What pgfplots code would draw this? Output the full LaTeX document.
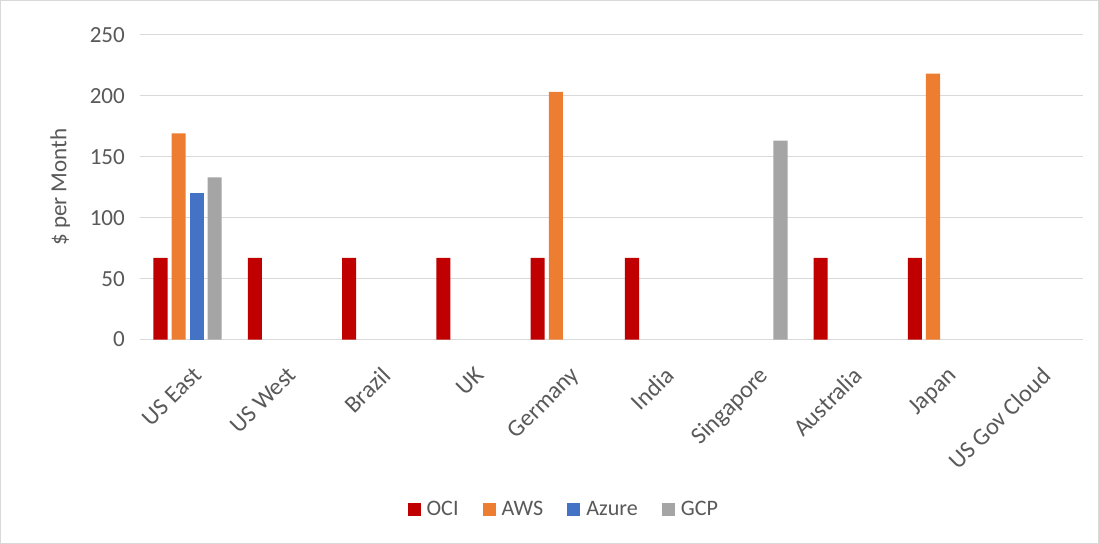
\documentclass[border=0pt]{standalone}
\usepackage{fontspec}
\setmainfont{Carlito}
\usepackage{pgfplots}
\pgfplotsset{compat=1.18}
\definecolor{oci}{HTML}{C00000}
\definecolor{aws}{HTML}{ED7D31}
\definecolor{azure}{HTML}{4472C4}
\definecolor{gcp}{HTML}{A5A5A5}
\definecolor{txt}{HTML}{595959}
\definecolor{grd}{HTML}{D9D9D9}
\begin{document}
\begin{tikzpicture}
\path[draw=grd, line width=1pt] (-139.5pt,-203pt) rectangle (955pt,338pt);
\begin{axis}[
  scale only axis, width=940pt, height=304pt,
  xmin=-0.5, xmax=9.5, ymin=0, ymax=250,
  ybar=4pt, bar width=14pt,
  axis line style={draw=none},
  major tick length=0pt,
  ymajorgrids, grid style={grd, line width=1.2pt},
  ytick={0,50,...,250},
  xtick={0,...,9},
  xticklabels={US East, US West, Brazil, UK, Germany, India, Singapore, Australia, Japan, US Gov Cloud},
  x tick label style={rotate=45, anchor=north east, font=\fontsize{24}{28}\selectfont, text=txt, inner sep=2pt, xshift=-13pt, yshift=-19pt},
  y tick label style={font=\fontsize{23}{27}\selectfont, text=txt, xshift=-12pt},
  /pgf/number format/assume math mode=true,
  ylabel={\$ per Month},
  every axis y label/.style={at={(-80pt,152pt)}, rotate=90, anchor=center, font=\fontsize{23}{27}\selectfont, text=txt},
  legend style={at={(422pt,-169pt)}, anchor=center, draw=none, legend columns=-1, font=\fontsize{22}{26}\selectfont, text=txt, /tikz/every even column/.append style={column sep=22pt}, /tikz/every odd column/.append style={column sep=4pt}},
  legend image code/.code={\fill[#1] (0pt,-6.5pt) rectangle (13pt,6.5pt);},
]
\addplot[fill=oci, draw=none] coordinates {(0,67) (1,67) (2,67) (3,67) (4,67) (5,67) (7,67) (8,67)};
\addplot[fill=aws, draw=none] coordinates {(0,169) (4,203) (8,218)};
\addplot[fill=azure, draw=none] coordinates {(0,120)};
\addplot[fill=gcp, draw=none] coordinates {(0,133) (6,163)};
\legend{OCI, AWS, Azure, GCP}
\end{axis}
\end{tikzpicture}
\end{document}
